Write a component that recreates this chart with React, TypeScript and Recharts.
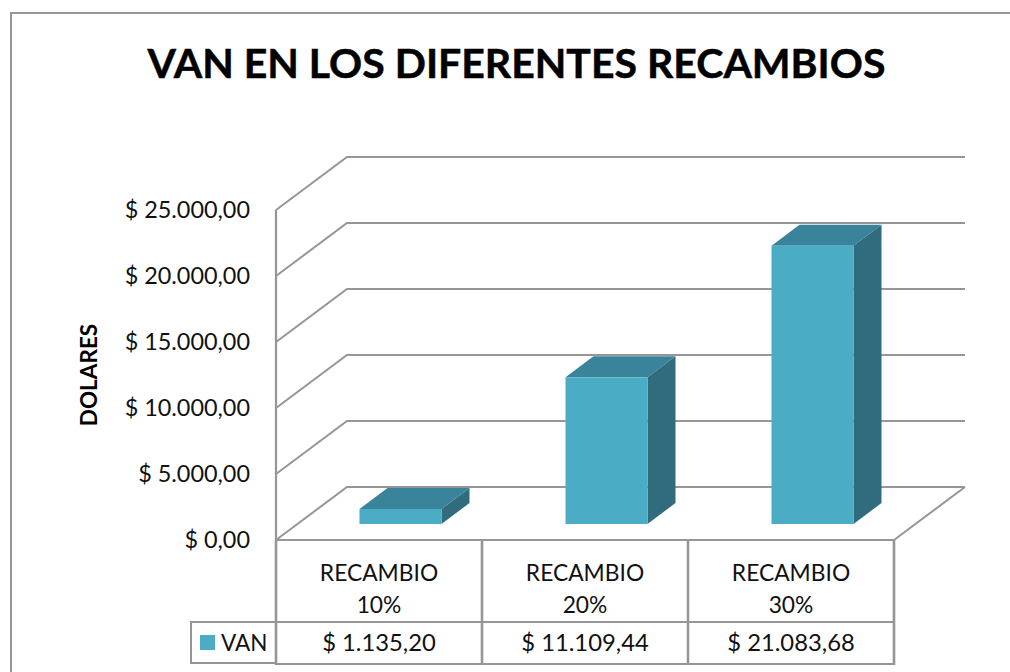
import { BarChart, Bar, XAxis, YAxis, CartesianGrid, Legend } from "recharts";

const categories = ["RECAMBIO 10%", "RECAMBIO 20%", "RECAMBIO 30%"];
const vanValues = [1135.2, 11109.44, 21083.68];
const yTicks = [0, 5000, 10000, 15000, 20000, 25000];

const FONT = "Lato, sans-serif";
const GRID = "#969696";
const TEXT = "#111111";
const FRONT = "#4BACC6";
const TOP = "#3A849B";
const SIDE = "#306C7E";

// depth of the walls and of the bars, the picture is a fake 3D
const WALL_DX = 71;
const WALL_DY = 53;
const BAR_DX = 28;
const BAR_DY = 21;
const BAR_SHIFT_X = 21.5;
const BAR_SHIFT_Y = 16;

function money(v: number): string {
    const [int, dec] = v.toFixed(2).split(".");
    return `$ ${int.replace(/\B(?=(\d{3})+$)/g, ".")},${dec}`;
}

function WallLine(props: any) {
    const { x1, x2, y1 } = props;
    const bx = x1 + WALL_DX;
    const by = y1 - WALL_DY;
    const isFloor = Math.abs(y1 - 540) < 1;
    return (
        <g fill="none" stroke={GRID} strokeWidth={2}>
            <polyline points={`${x1},${y1} ${bx},${by} ${x2 + WALL_DX},${by}`} />
            {isFloor && <line x1={x2} y1={y1} x2={x2 + WALL_DX} y2={by} />}
        </g>
    );
}

function Bar3D(props: any) {
    const { x, y, width, height } = props;
    const l = x + BAR_SHIFT_X;
    const r = l + width;
    const t = y - BAR_SHIFT_Y;
    const b = t + height;
    return (
        <g>
            <polygon points={`${l},${t} ${l + BAR_DX},${t - BAR_DY} ${r + BAR_DX},${t - BAR_DY} ${r},${t}`} fill={TOP} />
            <polygon points={`${r},${t} ${r + BAR_DX},${t - BAR_DY} ${r + BAR_DX},${b - BAR_DY} ${r},${b}`} fill={SIDE} />
            <rect x={l} y={t} width={width} height={height} fill={FRONT} />
        </g>
    );
}

function YTick({ y, payload }: any) {
    return (
        <text x={250} y={y + 8} textAnchor="end" fontFamily={FONT} fontSize={23.4} fill={TEXT}>
            {money(payload.value)}
        </text>
    );
}

// the data table under the plot is drawn by the category axis
function TableTick({ x, payload, index }: any) {
    const cellW = 206;
    const left = x - cellW / 2;
    const [word, pct] = String(payload.value).split(" ");
    return (
        <g>
            <line x1={left + cellW} y1={540} x2={left + cellW} y2={665} stroke={GRID} strokeWidth={2.6} />
            {index === 0 && <line x1={left} y1={540} x2={left} y2={665} stroke={GRID} strokeWidth={2.6} />}
            <line x1={left} y1={622} x2={left + cellW} y2={622} stroke={GRID} strokeWidth={2.2} />
            <line x1={left} y1={664} x2={left + cellW} y2={664} stroke={GRID} strokeWidth={2.2} />
            <text fontFamily={FONT} fontSize={22.8} fill={TEXT} textAnchor="middle">
                <tspan x={x} y={581}>{word}</tspan>
                <tspan x={x} y={613}>{pct}</tspan>
                <tspan x={x} y={651} fontSize={23.8}>{money(vanValues[index])}</tspan>
            </text>
        </g>
    );
}

function LegendCell({ payload }: any) {
    const item = payload?.[0];
    return (
        <div
            style={{
                boxSizing: "border-box",
                width: 86,
                height: 43,
                border: `2px solid ${GRID}`,
                borderRight: "none",
                display: "flex",
                alignItems: "center",
                fontFamily: FONT,
                fontSize: 22.5,
                color: TEXT,
            }}
        >
            <span style={{ width: 15, height: 15, background: FRONT, marginLeft: 8, marginRight: 6 }} />
            {item?.value}
        </div>
    );
}

const chartData = categories.map((c, i) => ({ name: c, VAN: vanValues[i] }));

export default function App() {
    return (
        <div style={{ position: "absolute", left: 0, top: 0, width: 1010, height: 672, overflow: "hidden", background: "#fff" }}>
            <div
                style={{
                    position: "absolute",
                    left: 10,
                    top: 12,
                    right: 0,
                    bottom: 0,
                    borderLeft: `2px solid ${GRID}`,
                    borderTop: `2px solid ${GRID}`,
                }}
            />
            <div
                style={{
                    position: "absolute",
                    left: 0,
                    width: 1033,
                    top: 33,
                    textAlign: "center",
                    fontFamily: FONT,
                    fontWeight: 700,
                    fontSize: 41,
                    color: "#000",
                    lineHeight: "60px",
                    WebkitTextStroke: "0.5px #000",
                }}
            >
                VAN EN LOS DIFERENTES RECAMBIOS
            </div>
            <BarChart
                width={1010}
                height={672}
                data={chartData}
                margin={{ top: 210, right: 116, bottom: 0, left: 0 }}
                barSize={82}
                style={{ position: "absolute", left: 0, top: 0 }}
            >
                <CartesianGrid vertical={false} horizontal={(p: any) => <WallLine key={p.key} {...p} />} />
                <XAxis
                    dataKey="name"
                    height={132}
                    interval={0}
                    axisLine={{ stroke: GRID, strokeWidth: 2.2 }}
                    tickLine={false}
                    tick={<TableTick />}
                />
                <YAxis
                    width={276}
                    domain={[0, 25000]}
                    ticks={yTicks}
                    axisLine={{ stroke: GRID, strokeWidth: 2.2 }}
                    tickLine={false}
                    tick={<YTick />}
                    label={{
                        value: "DOLARES",
                        angle: -90,
                        position: "insideLeft",
                        offset: 89,
                        style: { fontFamily: FONT, fontWeight: 700, fontSize: 22.5, fill: "#000", textAnchor: "middle" },
                    }}
                />
                <Legend
                    layout="horizontal"
                    verticalAlign="middle"
                    align="center"
                    content={<LegendCell />}
                    wrapperStyle={{ position: "absolute", left: 190, top: 621, width: 86, height: 43 }}
                />
                <Bar dataKey="VAN" fill={FRONT} isAnimationActive={false} shape={<Bar3D />} />
            </BarChart>
        </div>
    );
}
